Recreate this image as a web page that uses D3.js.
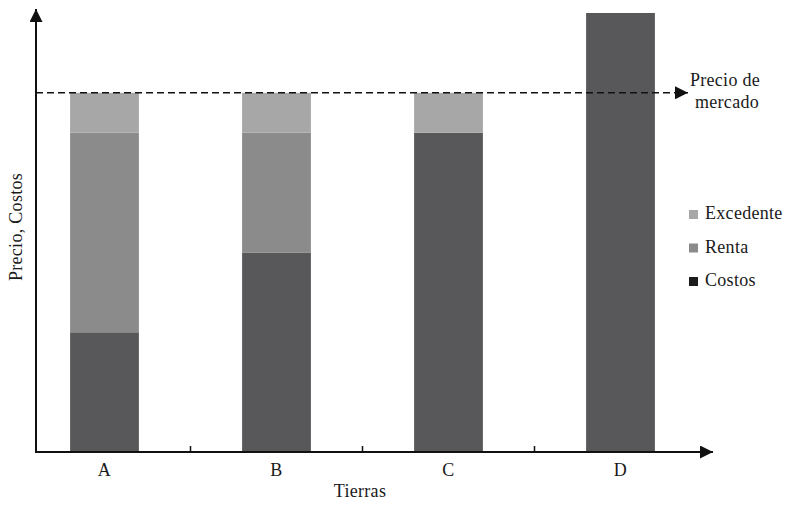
<!DOCTYPE html>
<html>
<head>
<meta charset="utf-8">
<script src="https://cdn.jsdelivr.net/npm/d3@7"></script>
<style>
  body { margin: 0; background: #fff; }
  text { font-family: "Liberation Serif", "DejaVu Serif", serif; fill: #1a1a1a; letter-spacing: 0.3px; }
</style>
</head>
<body>
<div id="chart"></div>
<script>
// Tierras y componentes (unidades arbitrarias)
const tierras = ['A', 'B', 'C', 'D'];
const costos = [3, 5, 8, 11];
const renta = [5, 3, 0, 0];
const excedente = [1, 1, 1, 0];
const precioMercado = 9;

const series = ['Costos', 'Renta', 'Excedente'];
const legendLabels = ['Excedente', 'Renta', 'Costos'];

const width = 800, height = 510;
const x0 = 36, yBase = 452;

const barColor = { Costos: '#58585a', Renta: '#8b8b8c', Excedente: '#a7a7a7' };
const legendColor = { Costos: '#1c1c1c', Renta: '#8b8b8c', Excedente: '#a7a7a7' };

const svg = d3.select('#chart').append('svg')
  .attr('width', width)
  .attr('height', height);

// Scales
const x = d3.scaleBand()
  .domain(tierras)
  .range([18.5, 706.5])
  .paddingInner(0.6)
  .paddingOuter(0.3);

const y = d3.scaleLinear()
  .domain([0, 11])
  .range([yBase, 13]);

// Stack data
const rows = tierras.map((t, i) => ({
  tierra: t, Costos: costos[i], Renta: renta[i], Excedente: excedente[i]
}));
const stacked = d3.stack().keys(series)(rows);

svg.append('g')
  .selectAll('g')
  .data(stacked)
  .join('g')
    .attr('fill', d => barColor[d.key])
  .selectAll('rect')
  .data(d => d.filter(s => s[1] > s[0]))
  .join('rect')
    .attr('x', d => x(d.data.tierra))
    .attr('width', x.bandwidth())
    .attr('y', d => y(d[1]))
    .attr('height', d => y(d[0]) - y(d[1]));

// Arrow marker
svg.append('defs').append('marker')
  .attr('id', 'arrow')
  .attr('viewBox', '0 0 10 10')
  .attr('refX', 10).attr('refY', 5)
  .attr('markerWidth', 13).attr('markerHeight', 13)
  .attr('markerUnits', 'userSpaceOnUse')
  .attr('orient', 'auto')
  .append('path')
    .attr('d', 'M0,0 L10,5 L0,10 Z')
    .attr('fill', '#111');

// X axis
svg.append('line')
  .attr('x1', x0).attr('y1', yBase)
  .attr('x2', 713).attr('y2', yBase)
  .attr('stroke', '#111').attr('stroke-width', 2)
  .attr('marker-end', 'url(#arrow)');

// Y axis
svg.append('line')
  .attr('x1', x0).attr('y1', yBase + 1)
  .attr('x2', x0).attr('y2', 9)
  .attr('stroke', '#111').attr('stroke-width', 2)
  .attr('marker-end', 'url(#arrow)');

// Ticks between categories
const step = x.step();
const tickXs = tierras.slice(1).map(t => x(t) + x.bandwidth() / 2 - step / 2);
svg.append('g')
  .selectAll('line')
  .data(tickXs)
  .join('line')
    .attr('x1', d => d).attr('x2', d => d)
    .attr('y1', yBase).attr('y2', yBase - 6)
    .attr('stroke', '#111').attr('stroke-width', 1.5);

// Category labels
svg.append('g')
  .selectAll('text')
  .data(tierras)
  .join('text')
    .attr('x', d => x(d) + x.bandwidth() / 2)
    .attr('y', 476)
    .attr('text-anchor', 'middle')
    .attr('font-size', 18)
    .text(d => d);

// Axis titles
svg.append('text')
  .attr('x', 360).attr('y', 497)
  .attr('text-anchor', 'middle')
  .attr('font-size', 18)
  .text('Tierras');

svg.append('text')
  .attr('transform', 'translate(22,227) rotate(-90)')
  .attr('text-anchor', 'middle')
  .attr('font-size', 18)
  .text('Precio, Costos');

// Market price line
svg.append('line')
  .attr('x1', x0).attr('y1', y(precioMercado))
  .attr('x2', 688).attr('y2', y(precioMercado))
  .attr('stroke', '#111').attr('stroke-width', 1.5)
  .attr('stroke-dasharray', '7,4')
  .attr('marker-end', 'url(#arrow)');

const priceLabel = svg.append('text')
  .attr('text-anchor', 'middle')
  .attr('font-size', 18);
priceLabel.append('tspan').attr('x', 725).attr('y', 86).text('Precio de');
priceLabel.append('tspan').attr('x', 727).attr('y', 108).text('mercado');

// Legend
const legend = svg.append('g')
  .selectAll('g')
  .data(legendLabels)
  .join('g')
    .attr('transform', (d, i) => `translate(689,${210 + i * 33.5})`);

legend.append('rect')
  .attr('width', 9).attr('height', 9)
  .attr('fill', d => legendColor[d]);

legend.append('text')
  .attr('x', 16).attr('y', 9)
  .attr('font-size', 18)
  .text(d => d);
</script>
</body>
</html>
